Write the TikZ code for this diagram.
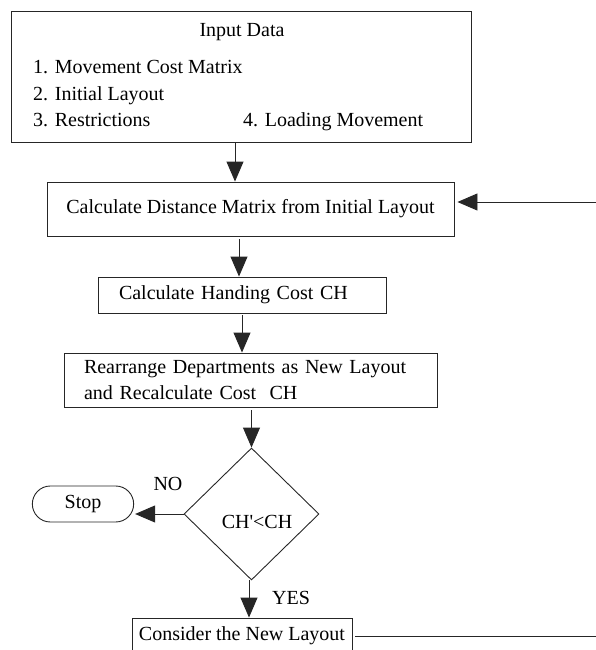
\documentclass[tikz,border=0pt]{standalone}
\usepackage{fontspec}
\setmainfont{Liberation Serif}
\usepackage{tikz}
\usetikzlibrary{
  arrows.meta,
  shapes.misc,
  shapes.geometric,
  positioning
}

\begin{document}
\begin{tikzpicture}[
      x=1pt,y=-1pt,
      font=\fontsize{20}{26}\selectfont,
      process/.style={
         rectangle,
         draw=black!85,
         line width=0.9pt,
         inner xsep=21pt,
         inner ysep=0pt,
         align=left
      },
      decision/.style={
         diamond,
         draw=black!85,
         line width=0.9pt,
         inner sep=0pt,
         minimum width=135pt,
         minimum height=132pt
      },
      terminal/.style={
         rounded rectangle,
         draw=black!85,
         line width=0.9pt,
         minimum width=108pt,
         minimum height=36pt
      },
      item/.style={anchor=base west,inner sep=0pt},
      tip/.style={-{Triangle[length=20pt,width=17pt]},line width=0.9pt,draw=black!85},
      line/.style={line width=0.9pt,draw=black!85}
    ]
    \clip (0,0) rectangle (596,650);

    % input block
    \node (input) [process,minimum width=460pt,minimum height=131pt] at (241,76.5) {};
    \node (title) [anchor=base,inner sep=0pt] at (242,36.5) {Input Data};
    \node (i1) [item] at (33,74) {1. Movement Cost Matrix};
    \node (i2) [item] at (33,100.5) {2. Initial Layout};
    \node (i3) [item] at (33,127) {3. Restrictions};
    \node (i4) [item] at (243,127) {4. Loading Movement};

    % processing steps
    \node (dist) [process,inner xsep=17pt,minimum width=407pt,minimum height=54pt] at (250.5,209)
       {Calculate Distance Matrix from Initial Layout};
    \node (handling) [process,text width=246pt,minimum height=36pt] at (242,295)
       {Calculate Handing Cost CH};
    \node (rearrange) [process,inner xsep=20pt,text width=333pt,minimum height=54pt] at (250.5,380)
       {Rearrange Departments as New Layout\\and Recalculate Cost~~CH};
    \node (check) [decision] at (251.5,514) {};
    \node (cond) [inner sep=0pt] at (257,522) {CH\textquotesingle<CH};
    \node (stop) [terminal] at (83,504) {Stop};
    \node (newlayout) [process,inner xsep=3pt,minimum width=220pt,minimum height=36pt] at (242,636)
       {Consider the New Layout};

    \node (no) [inner sep=0pt] at (168,484) {NO};
    \node (yes) [inner sep=0pt] at (291,598) {YES};

    \coordinate (back) at (598,202);
    \coordinate (out) at (600,637);

    % connectors
    \draw[tip] ([xshift=-6pt]input.south) -- ([xshift=-6pt]input.south |- dist.north);
    \draw[tip] ([xshift=-11.5pt,yshift=-3pt]dist.south) -- ([xshift=-11.5pt]dist.south |- handling.north);
    \draw[tip] ([yshift=-2pt]handling.south) -- (handling.south |- rearrange.north);
    \draw[tip] ([yshift=-3pt]rearrange.south -| check.north) -- (check.north);
    \draw[tip] (check.west) -- ([xshift=1pt]check.west -| stop.east);
    \draw[tip] ([xshift=-2.5pt]check.south) -- ([xshift=-2.5pt]check.south |- newlayout.north);
    \draw[tip] (back) -- ([xshift=3pt]back -| dist.east);
    \draw[line] ([xshift=3pt]newlayout.east) -- (newlayout.east -| out);
\end{tikzpicture}
\end{document}
